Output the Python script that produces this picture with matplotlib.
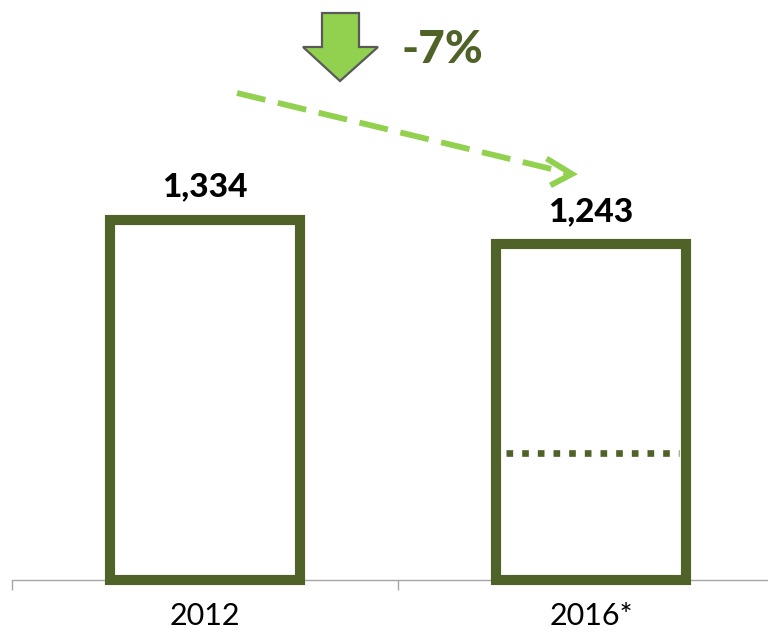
import matplotlib
matplotlib.use("Agg")
import matplotlib.pyplot as plt
from matplotlib.patches import Polygon

plt.rcParams['font.family'] = ['Lato', 'DejaVu Sans']

# data
categories = ["2012", "2016*"]
values = [1334, 1243]
value_labels = ["1,334", "1,243"]
dotted_level = 470  # inner marker inside 2016* bar

olive = '#4F6228'
light_green = '#92D050'

W, H = 768, 634
fig = plt.figure(figsize=(W / 100, H / 100), dpi=100)

# main axes: x spans -0.5..1.5, baseline at 580px from top
ymax = 2000
px_per_unit = 0.27
ax_h = ymax * px_per_unit
ax = fig.add_axes([12 / W, (H - 580) / H, 772 / W, ax_h / H])
ax.set_xlim(-0.5, 1.5)
ax.set_ylim(0, ymax)

x = list(range(len(categories)))
bars = ax.bar(x, values, width=0.49, facecolor='white', edgecolor=olive,
              linewidth=7.3, zorder=3)
for b in bars:
    b.set_clip_on(False)

for xi, v, lab in zip(x, values, value_labels):
    ax.text(xi, v + 68, lab, ha='center', va='bottom', fontsize=24,
            fontweight='black', color='black')

# dotted level inside second bar
half_in = 0.49 / 2 - 10 / 386
ax.plot([1 - half_in, 1 + half_in + 0.01], [dotted_level, dotted_level],
        color=olive, linewidth=4.8, linestyle=(0, (1, 1.35)),
        dash_capstyle='butt', zorder=4)

for s in ['top', 'right', 'left']:
    ax.spines[s].set_visible(False)
ax.spines['bottom'].set_color('#A6A6A6')
ax.spines['bottom'].set_linewidth(1)
ax.set_yticks([])
ax.set_xticks([-0.5, 0.5, 1.5])
ax.set_xticklabels([])
ax.tick_params(axis='x', which='major', length=7, color='#A6A6A6', width=1)
ax.set_xticks(x, minor=True)
ax.set_xticklabels(categories, minor=True, fontsize=22)
ax.tick_params(axis='x', which='minor', length=0, pad=16)

# overlay in pixel coordinates for the change annotation
ov = fig.add_axes([0, 0, 1, 1])
ov.set_xlim(0, W)
ov.set_ylim(H, 0)
ov.axis('off')
ov.patch.set_alpha(0)

arrow_pts = [(322, 13), (359, 13), (359, 47), (378, 47), (340, 81),
             (303, 47), (322, 47)]
ov.add_patch(Polygon(arrow_pts, closed=True, facecolor=light_green,
                     edgecolor='#595959', linewidth=1.6))

change = round((values[1] / values[0] - 1) * 100)
ov.text(401, 50, f"{change}%", fontsize=33, fontweight='black', color=olive,
        ha='left', va='center')

# dashed trend arrow
x0, y0, x1, y1 = 237, 93, 572, 174
ov.plot([x0, x1 - 6], [y0, y1 - 1.5], color=light_green, linewidth=4.2,
        linestyle=(0, (5, 2.2)), solid_capstyle='butt')
ov.plot([549, x1, 553], [160, y1, 184], color=light_green, linewidth=4.2,
        solid_joinstyle='miter')

fig.savefig('out.png', dpi=100)
